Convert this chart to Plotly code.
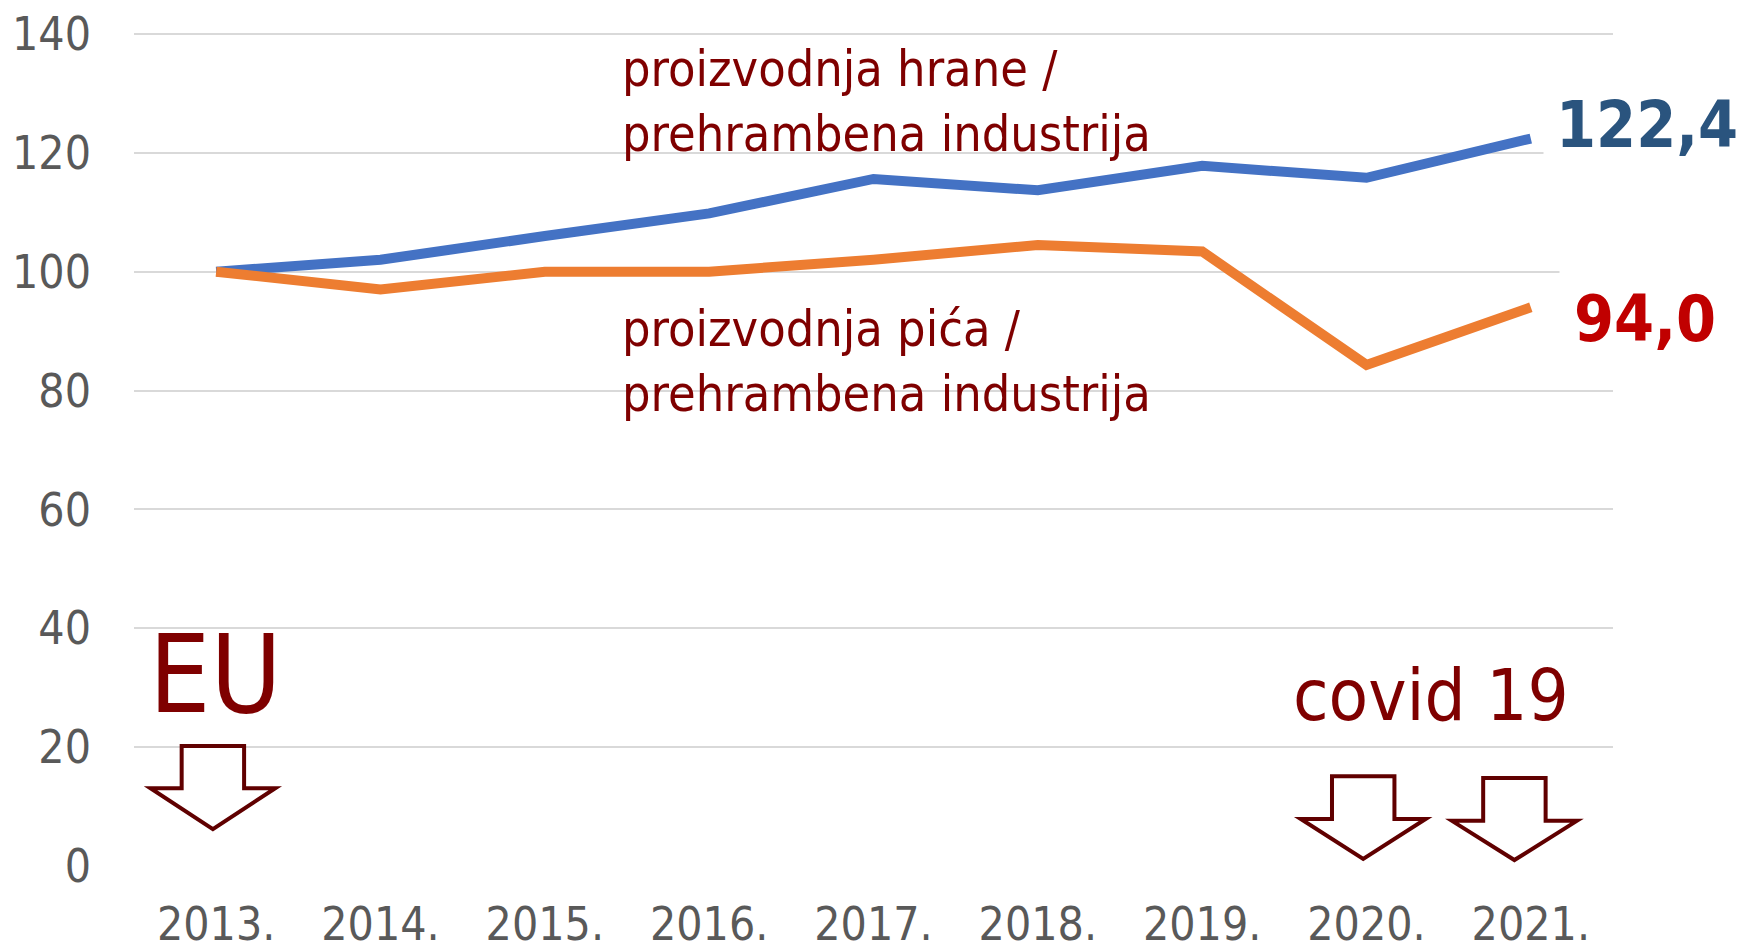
import plotly.graph_objects as go

years = [2013, 2014, 2015, 2016, 2017, 2018, 2019, 2020, 2021]
tick_labels = ["2013.", "2014.", "2015.", "2016.", "2017.", "2018.", "2019.", "2020.", "2021."]
food = [100, 102.0, 106.0, 109.8, 115.6, 113.7, 117.8, 115.8, 122.4]
drinks = [100, 97.0, 100.0, 100.0, 102.0, 104.5, 103.4, 84.3, 94.0]
y_ticks = [0, 20, 40, 60, 80, 100, 120, 140]
arrow_years = [2013, 2020, 2021]

FONT = "Tahoma, 'DejaVu Sans Condensed', 'Noto Sans', sans-serif"
MAROON = "#7F0000"

fig = go.Figure()
fig.add_trace(go.Scatter(x=years, y=food, mode="lines",
                         line=dict(color="#4472C4", width=10), showlegend=False))
fig.add_trace(go.Scatter(x=years, y=drinks, mode="lines",
                         line=dict(color="#ED7D31", width=10), showlegend=False))

# hollow down arrows (decorations)
arrow_specs = [(-0.02, 20.2, 13.1, 6.2), (-0.02, 15.1, 7.9, 1.2), (-0.1, 14.8, 7.6, 1.0)]
for yr, (dx, top, base, tip) in zip(arrow_years, arrow_specs):
    c = yr + dx
    sw, hw = 0.19, 0.38
    path = (f"M {c-sw},{top} L {c+sw},{top} L {c+sw},{base} L {c+hw},{base} "
            f"L {c},{tip} L {c-hw},{base} L {c-sw},{base} Z")
    fig.add_shape(type="path", path=path, xref="x", yref="y",
                  line=dict(color="#600000", width=4), fillcolor="white", layer="above")

ann_font = dict(family=FONT, size=50, color=MAROON)
fig.add_annotation(x=2015.46, y=128.6, xref="x", yref="y", xanchor="left", yanchor="middle",
                   text="proizvodnja hrane /<br>prehrambena industrija", showarrow=False,
                   align="left", font=ann_font)
fig.add_annotation(x=2015.46, y=84.9, xref="x", yref="y", xanchor="left", yanchor="middle",
                   text="proizvodnja pića /<br>prehrambena industrija", showarrow=False,
                   align="left", font=ann_font)
fig.add_annotation(x=2012.58, y=32.3, xref="x", yref="y", xanchor="left", yanchor="middle",
                   text="EU", showarrow=False, font=dict(family=FONT, size=108, color=MAROON))
fig.add_annotation(x=2019.54, y=28.7, xref="x", yref="y", xanchor="left", yanchor="middle",
                   text="covid 19", showarrow=False, font=dict(family=FONT, size=72, color=MAROON))
fig.add_annotation(x=2021.075, y=124.6, xref="x", yref="y", xanchor="left", yanchor="middle",
                   text=f"<b>{food[-1]:.1f}</b>".replace(".", ","), showarrow=False,
                   bgcolor="white", borderpad=12,
                   font=dict(family=FONT, size=64, color="#2A547E"))
fig.add_annotation(x=2021.17, y=92.0, xref="x", yref="y", xanchor="left", yanchor="middle",
                   text=f"<b>{drinks[-1]:.1f}</b>".replace(".", ","), showarrow=False,
                   bgcolor="white", borderpad=14,
                   font=dict(family=FONT, size=64, color="#C00000"))

fig.update_layout(
    width=1748, height=941,
    margin=dict(l=126, r=143, t=20, b=83, autoexpand=False),
    paper_bgcolor="white", plot_bgcolor="white",
    font=dict(family=FONT, color="#595959"),
)
fig.update_xaxes(range=[2012.5, 2021.5], tickvals=years, ticktext=tick_labels,
                 showgrid=False, zeroline=False, showline=False, ticks="", automargin=False,
                 ticklabeloverflow="allow",
                 tickfont=dict(size=46, color="#595959"), ticklabelstandoff=27)
fig.update_yaxes(range=[0, 141], tickvals=y_ticks, showgrid=True, gridcolor="#D9D9D9",
                 gridwidth=2, zeroline=False, showline=False, ticks="", automargin=False,
                 ticklabeloverflow="allow",
                 tickfont=dict(size=46, color="#595959"), ticklabelstandoff=42)

fig.write_html("out.html")
